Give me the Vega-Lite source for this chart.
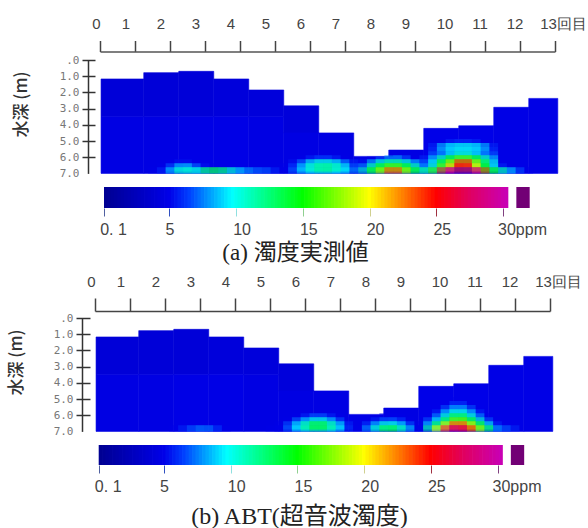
{
"$schema":"https://vega.github.io/schema/vega-lite/v6.json",
"padding":{"left":7,"top":16,"right":0,"bottom":0},
"background":"white",
"bounds":"flush",
"spacing":13,
"config":{"view":{"stroke":null},"axis":{"grid":false}},
"datasets":{
"back":[
{"x":0.03,"x2":1.25,"d":1.17,"d2":3.5,"v":4.1},{"x":0.03,"x2":1.25,"d":3.5,"d2":7,"v":4.7},
{"x":1.25,"x2":2.25,"d":0.78,"d2":3.5,"v":4.1},{"x":1.25,"x2":2.25,"d":3.5,"d2":7,"v":4.7},
{"x":2.25,"x2":3.25,"d":0.7,"d2":3.5,"v":4.1},{"x":2.25,"x2":3.25,"d":3.5,"d2":7,"v":4.9},
{"x":3.25,"x2":4.25,"d":1.17,"d2":3.5,"v":4.3},{"x":3.25,"x2":4.25,"d":3.5,"d2":7,"v":4.9},
{"x":4.25,"x2":5.25,"d":1.85,"d2":3.5,"v":4.3},{"x":4.25,"x2":5.25,"d":3.5,"d2":7,"v":4.7},
{"x":5.25,"x2":6.25,"d":2.83,"d2":4.5,"v":4.3},{"x":5.25,"x2":6.25,"d":4.5,"d2":7,"v":4.7},
{"x":6.25,"x2":7.25,"d":4.5,"d2":7,"v":4.7},
{"x":7.25,"x2":8.25,"d":5.95,"d2":7,"v":4.9},
{"x":8.25,"x2":9.25,"d":5.56,"d2":7,"v":4.7},
{"x":9.25,"x2":10.25,"d":4.22,"d2":7,"v":5},
{"x":10.25,"x2":11.25,"d":4.06,"d2":7,"v":5},
{"x":11.25,"x2":12.25,"d":2.92,"d2":7,"v":4.9},
{"x":12.25,"x2":13.08,"d":2.37,"d2":7,"v":4.9}
],
"hotA":[
{"x":1.625,"d":6.875,"v":5},{"x":1.875,"d":6.875,"v":6},{"x":2.125,"d":6.875,"v":9},{"x":2.375,"d":6.875,"v":11},{"x":2.625,"d":6.875,"v":10},{"x":2.875,"d":6.875,"v":10.5},{"x":3.125,"d":6.875,"v":13},{"x":3.375,"d":6.875,"v":13},{"x":3.625,"d":6.875,"v":11},{"x":3.875,"d":6.875,"v":9},{"x":4.125,"d":6.875,"v":8},{"x":4.375,"d":6.875,"v":7},{"x":4.625,"d":6.875,"v":7},{"x":4.875,"d":6.875,"v":6},{"x":5.125,"d":6.875,"v":5},
{"x":1.875,"d":6.625,"v":5},{"x":2.125,"d":6.625,"v":7},{"x":2.375,"d":6.625,"v":9},{"x":2.625,"d":6.625,"v":7.5},{"x":2.875,"d":6.625,"v":5.5},{"x":3.125,"d":6.625,"v":5},
{"x":2.125,"d":6.375,"v":5},{"x":2.375,"d":6.375,"v":5.5},{"x":2.625,"d":6.375,"v":5},
{"x":5.375,"d":6.875,"v":5},{"x":5.625,"d":6.875,"v":7},{"x":5.875,"d":6.875,"v":9},{"x":6.125,"d":6.875,"v":10},{"x":6.375,"d":6.875,"v":11},{"x":6.625,"d":6.875,"v":10},{"x":6.875,"d":6.875,"v":9.5},{"x":7.125,"d":6.875,"v":8},
{"x":5.375,"d":6.625,"v":5},{"x":5.625,"d":6.625,"v":6.5},{"x":5.875,"d":6.625,"v":9},{"x":6.125,"d":6.625,"v":11},{"x":6.375,"d":6.625,"v":12},{"x":6.625,"d":6.625,"v":11.5},{"x":6.875,"d":6.625,"v":10},{"x":7.125,"d":6.625,"v":7},
{"x":5.625,"d":6.375,"v":5.5},{"x":5.875,"d":6.375,"v":7.5},{"x":6.125,"d":6.375,"v":10},{"x":6.375,"d":6.375,"v":10.5},{"x":6.625,"d":6.375,"v":10},{"x":6.875,"d":6.375,"v":8},{"x":7.125,"d":6.375,"v":6},
{"x":5.875,"d":6.125,"v":5},{"x":6.125,"d":6.125,"v":6},{"x":6.375,"d":6.125,"v":6.5},{"x":6.625,"d":6.125,"v":6},{"x":6.875,"d":6.125,"v":5},
{"x":7.375,"d":6.875,"v":5},{"x":7.625,"d":6.875,"v":11},{"x":7.875,"d":6.875,"v":15},{"x":8.125,"d":6.875,"v":19},{"x":8.375,"d":6.875,"v":24},{"x":8.625,"d":6.875,"v":19},{"x":8.875,"d":6.875,"v":15},{"x":9.125,"d":6.875,"v":11},
{"x":7.625,"d":6.625,"v":8},{"x":7.875,"d":6.625,"v":12},{"x":8.125,"d":6.625,"v":15},{"x":8.375,"d":6.625,"v":17},{"x":8.625,"d":6.625,"v":15},{"x":8.875,"d":6.625,"v":12},{"x":9.125,"d":6.625,"v":8},
{"x":7.625,"d":6.375,"v":5.5},{"x":7.875,"d":6.375,"v":9},{"x":8.125,"d":6.375,"v":11},{"x":8.375,"d":6.375,"v":12},{"x":8.625,"d":6.375,"v":11},{"x":8.875,"d":6.375,"v":9},{"x":9.125,"d":6.375,"v":6},
{"x":7.875,"d":6.2,"v":5},{"x":8.125,"d":6.2,"v":7},{"x":8.375,"d":6.125,"v":8},{"x":8.625,"d":6.125,"v":7},{"x":8.875,"d":6.125,"v":5},
{"x":9.375,"d":6.875,"v":12},{"x":9.625,"d":6.875,"v":16},{"x":9.875,"d":6.875,"v":27},{"x":10.125,"d":6.875,"v":30},{"x":10.375,"d":6.875,"v":31},{"x":10.625,"d":6.875,"v":30},{"x":10.875,"d":6.875,"v":24},{"x":11.125,"d":6.875,"v":15},{"x":11.375,"d":6.875,"v":12},{"x":11.625,"d":6.875,"v":9},{"x":11.875,"d":6.875,"v":7},{"x":12.125,"d":6.875,"v":5},
{"x":9.375,"d":6.625,"v":7},{"x":9.625,"d":6.625,"v":11},{"x":9.875,"d":6.625,"v":17},{"x":10.125,"d":6.625,"v":21},{"x":10.375,"d":6.625,"v":25},{"x":10.625,"d":6.625,"v":20},{"x":10.875,"d":6.625,"v":15},{"x":11.125,"d":6.625,"v":10},{"x":11.375,"d":6.625,"v":6},
{"x":9.375,"d":6.375,"v":7},{"x":9.625,"d":6.375,"v":10},{"x":9.875,"d":6.375,"v":15},{"x":10.125,"d":6.375,"v":19},{"x":10.375,"d":6.375,"v":25},{"x":10.625,"d":6.375,"v":19},{"x":10.875,"d":6.375,"v":14},{"x":11.125,"d":6.375,"v":10},{"x":11.375,"d":6.375,"v":5},
{"x":9.375,"d":6.125,"v":6},{"x":9.625,"d":6.125,"v":9},{"x":9.875,"d":6.125,"v":12},{"x":10.125,"d":6.125,"v":15},{"x":10.375,"d":6.125,"v":17},{"x":10.625,"d":6.125,"v":15},{"x":10.875,"d":6.125,"v":12},{"x":11.125,"d":6.125,"v":9},
{"x":9.375,"d":5.875,"v":5},{"x":9.625,"d":5.875,"v":7},{"x":9.875,"d":5.875,"v":8},{"x":10.125,"d":5.875,"v":10},{"x":10.375,"d":5.875,"v":11},{"x":10.625,"d":5.875,"v":10},{"x":10.875,"d":5.875,"v":8},{"x":11.125,"d":5.875,"v":7},
{"x":9.625,"d":5.625,"v":6},{"x":9.875,"d":5.625,"v":7},{"x":10.125,"d":5.625,"v":8},{"x":10.375,"d":5.625,"v":8},{"x":10.625,"d":5.625,"v":8},{"x":10.875,"d":5.625,"v":7},{"x":11.125,"d":5.625,"v":6},
{"x":9.625,"d":5.375,"v":6},{"x":9.875,"d":5.375,"v":9},{"x":10.125,"d":5.375,"v":9.5},{"x":10.375,"d":5.375,"v":10},{"x":10.625,"d":5.375,"v":9.5},{"x":10.875,"d":5.375,"v":9},{"x":11.125,"d":5.375,"v":6},
{"x":9.875,"d":5.125,"v":5},{"x":10.125,"d":5.125,"v":6},{"x":10.375,"d":5.125,"v":6},{"x":10.625,"d":5.125,"v":6},{"x":10.875,"d":5.125,"v":5}
],
"hotB":[
{"x":2.375,"d":6.875,"v":5},{"x":2.625,"d":6.875,"v":6},{"x":2.875,"d":6.875,"v":7},{"x":3.125,"d":6.875,"v":7.5},{"x":3.375,"d":6.875,"v":6.5},{"x":3.625,"d":6.875,"v":5},
{"x":5.125,"d":6.875,"v":5},
{"x":5.375,"d":6.875,"v":5},{"x":5.625,"d":6.875,"v":7},{"x":5.875,"d":6.875,"v":9.5},{"x":6.125,"d":6.875,"v":11},{"x":6.375,"d":6.875,"v":12},{"x":6.625,"d":6.875,"v":11},{"x":6.875,"d":6.875,"v":9.5},{"x":7.125,"d":6.875,"v":6},
{"x":5.375,"d":6.625,"v":5},{"x":5.625,"d":6.625,"v":7},{"x":5.875,"d":6.625,"v":9.5},{"x":6.125,"d":6.625,"v":12},{"x":6.375,"d":6.625,"v":14},{"x":6.625,"d":6.625,"v":12},{"x":6.875,"d":6.625,"v":9.5},{"x":7.125,"d":6.625,"v":6},
{"x":5.625,"d":6.375,"v":5},{"x":5.875,"d":6.375,"v":7.5},{"x":6.125,"d":6.375,"v":9},{"x":6.375,"d":6.375,"v":10.5},{"x":6.625,"d":6.375,"v":9},{"x":6.875,"d":6.375,"v":7},{"x":7.125,"d":6.375,"v":5},
{"x":5.875,"d":6.125,"v":5},{"x":6.125,"d":6.125,"v":6},{"x":6.375,"d":6.125,"v":7},{"x":6.625,"d":6.125,"v":6},{"x":6.875,"d":6.125,"v":5},
{"x":7.625,"d":6.875,"v":5},{"x":7.875,"d":6.875,"v":8},{"x":8.125,"d":6.875,"v":11},{"x":8.375,"d":6.875,"v":14},{"x":8.625,"d":6.875,"v":12},{"x":8.875,"d":6.875,"v":9},{"x":9.125,"d":6.875,"v":5},
{"x":7.875,"d":6.625,"v":6.5},{"x":8.125,"d":6.625,"v":9},{"x":8.375,"d":6.625,"v":10.5},{"x":8.625,"d":6.625,"v":9.5},{"x":8.875,"d":6.625,"v":7},{"x":9.125,"d":6.625,"v":5},
{"x":7.875,"d":6.375,"v":5},{"x":8.125,"d":6.375,"v":6},{"x":8.375,"d":6.375,"v":7},{"x":8.625,"d":6.375,"v":6.5},{"x":8.875,"d":6.375,"v":5},
{"x":8.375,"d":6.125,"v":5},{"x":8.625,"d":6.125,"v":5},
{"x":9.375,"d":6.875,"v":5},{"x":9.625,"d":6.875,"v":12},{"x":9.875,"d":6.875,"v":20},{"x":10.125,"d":6.875,"v":27},{"x":10.375,"d":6.875,"v":28},{"x":10.625,"d":6.875,"v":25},{"x":10.875,"d":6.875,"v":19},{"x":11.125,"d":6.875,"v":14},{"x":11.375,"d":6.875,"v":8},{"x":11.625,"d":6.875,"v":7},{"x":11.875,"d":6.875,"v":6},
{"x":9.625,"d":6.625,"v":9},{"x":9.875,"d":6.625,"v":14},{"x":10.125,"d":6.625,"v":20},{"x":10.375,"d":6.625,"v":24},{"x":10.625,"d":6.625,"v":20},{"x":10.875,"d":6.625,"v":15},{"x":11.125,"d":6.625,"v":10},{"x":11.375,"d":6.625,"v":6},
{"x":9.625,"d":6.375,"v":7},{"x":9.875,"d":6.375,"v":10},{"x":10.125,"d":6.375,"v":14},{"x":10.375,"d":6.375,"v":17.5},{"x":10.625,"d":6.375,"v":15},{"x":10.875,"d":6.375,"v":11},{"x":11.125,"d":6.375,"v":7},{"x":11.375,"d":6.375,"v":5},
{"x":9.625,"d":6.125,"v":5},{"x":9.875,"d":6.125,"v":8},{"x":10.125,"d":6.125,"v":11},{"x":10.375,"d":6.125,"v":14},{"x":10.625,"d":6.125,"v":11},{"x":10.875,"d":6.125,"v":8},{"x":11.125,"d":6.125,"v":5},
{"x":9.875,"d":5.875,"v":6},{"x":10.125,"d":5.875,"v":9},{"x":10.375,"d":5.875,"v":10.5},{"x":10.625,"d":5.875,"v":9},{"x":10.875,"d":5.875,"v":6},
{"x":9.875,"d":5.625,"v":5},{"x":10.125,"d":5.625,"v":7},{"x":10.375,"d":5.625,"v":8.5},{"x":10.625,"d":5.625,"v":7},{"x":10.875,"d":5.625,"v":5},
{"x":10.125,"d":5.375,"v":5},{"x":10.375,"d":5.375,"v":6.5},{"x":10.625,"d":5.375,"v":5},
{"x":10.375,"d":5.125,"v":5}
],
"bar":[{"p":0.25},{"p":0.5},{"p":0.75},{"p":1},{"p":1.25},{"p":1.5},{"p":1.75},{"p":2},{"p":2.25},{"p":2.5},{"p":2.75},{"p":3},{"p":3.25},{"p":3.5},{"p":3.75},{"p":4},{"p":4.25},{"p":4.5},{"p":4.75},{"p":5},{"p":5.25},{"p":5.5},{"p":5.75},{"p":6},{"p":6.25},{"p":6.5},{"p":6.75},{"p":7},{"p":7.25},{"p":7.5},{"p":7.75},{"p":8},{"p":8.25},{"p":8.5},{"p":8.75},{"p":9},{"p":9.25},{"p":9.5},{"p":9.75},{"p":10},{"p":10.25},{"p":10.5},{"p":10.75},{"p":11},{"p":11.25},{"p":11.5},{"p":11.75},{"p":12},{"p":12.25},{"p":12.5},{"p":12.75},{"p":13},{"p":13.25},{"p":13.5},{"p":13.75},{"p":14},{"p":14.25},{"p":14.5},{"p":14.75},{"p":15},{"p":15.25},{"p":15.5},{"p":15.75},{"p":16},{"p":16.25},{"p":16.5},{"p":16.75},{"p":17},{"p":17.25},{"p":17.5},{"p":17.75},{"p":18},{"p":18.25},{"p":18.5},{"p":18.75},{"p":19},{"p":19.25},{"p":19.5},{"p":19.75},{"p":20},{"p":20.25},{"p":20.5},{"p":20.75},{"p":21},{"p":21.25},{"p":21.5},{"p":21.75},{"p":22},{"p":22.25},{"p":22.5},{"p":22.75},{"p":23},{"p":23.25},{"p":23.5},{"p":23.75},{"p":24},{"p":24.25},{"p":24.5},{"p":24.75},{"p":25},{"p":25.25},{"p":25.5},{"p":25.75},{"p":26},{"p":26.25},{"p":26.5},{"p":26.75},{"p":27},{"p":27.25},{"p":27.5},{"p":27.75},{"p":28},{"p":28.25},{"p":28.5},{"p":28.75},{"p":29},{"p":29.25},{"p":29.5},{"p":29.75},{"p":30},{"p":30.25}],
"over":[{"p":31,"p2":32}]
},
"vconcat":[
{"width":460,"height":113.4,
 "resolve":{"axis":{"x":"independent","y":"independent"}},
 "layer":[
 {"data":{"name":"back"},"mark":{"type":"rect","strokeWidth":0.6},"encoding":{
  "x":{"field":"x","type":"quantitative","scale":{"domain":[0,13],"range":[5,460],"nice":false},
   "axis":{"orient":"top","offset":8.5,"values":[0,1,2,3,4,5,6,7,8,9,10,11,12,13],"tickSize":11,"tickWidth":1.5,"tickColor":"#444","domainColor":"#555","domainWidth":1.5,"labelFont":"Liberation Sans Narrow, Liberation Sans","labelFontSize":15,"labelColor":"#444","labelPadding":9,"title":null,"labelFlush":false,"labelOverlap":false,"labelExpr":"datum.value==13?'13回目':datum.label","labelOffset":{"condition":[{"test":"datum.value==0","value":-4},{"test":"datum.value==13","value":8},{"test":"datum.value>=10","value":-5.5}],"value":-9.5}}},
  "x2":{"field":"x2"},
  "y":{"field":"d","type":"quantitative","scale":{"domain":[0,7],"reverse":true,"nice":false},
   "axis":{"orient":"left","values":[0,1,2,3,4,5,6,7],"domain":false,"tickSize":13,"tickWidth":1.5,"tickColor":"#333","tickOpacity":{"condition":{"test":"datum.value==7","value":0},"value":1},"labelFont":"DejaVu Sans Mono","labelFontSize":11,"labelColor":"#777","labelPadding":3,"labelFlush":false,"labelOverlap":false,"labelExpr":"datum.value==0?'.0':format(datum.value,'.1f')","title":"水深  (m)","titleFont":"Noto Sans CJK JP","titleFontSize":17,"titleFontWeight":500,"titleColor":"#333","titleX":-65,"titleY":44}},
  "y2":{"field":"d2"},
  "stroke":{"field":"v","type":"quantitative","legend":null,"scale":{"interpolate":"rgb","domain":[0.1,5,6.5,9.7,15,20,25,27.5,30.4,30.9],"range":["#000090","#0000e8","#0040ff","#00ffff","#00ff00","#ffff00","#ff0000","#e00060","#c800b8","#800080"]}},
  "color":{"field":"v","type":"quantitative","legend":null,"scale":{"interpolate":"rgb","domain":[0.1,5,6.5,9.7,15,20,25,27.5,30.4,30.9],"range":["#000090","#0000e8","#0040ff","#00ffff","#00ff00","#ffff00","#ff0000","#e00060","#c800b8","#800080"]}}
 }},
 {"data":{"name":"hotA"},"mark":{"type":"rect","width":17.5,"height":8.1,"opacity":0.5,"clip":true},"encoding":{
  "x":{"field":"x","type":"quantitative","scale":{"domain":[0,13],"range":[5,460],"nice":false},"axis":null},
  "y":{"field":"d","type":"quantitative","scale":{"domain":[0,7],"reverse":true,"nice":false},
   "axis":{"orient":"left","offset":7,"values":[0,7],"ticks":false,"labels":false,"domain":true,"domainColor":"#333","domainWidth":1.5,"title":null}},
  "order":{"field":"v","type":"quantitative"},
  "color":{"field":"v","type":"quantitative","legend":null,"scale":{"interpolate":"rgb","domain":[0.1,5,6.5,9.7,15,20,25,27.5,30.4,30.9],"range":["#000090","#0000e8","#0040ff","#00ffff","#00ff00","#ffff00","#ff0000","#e00060","#c800b8","#800080"]}}
 }}
 ]},
{"width":460,"height":21,
 "layer":[
 {"data":{"name":"bar"},"mark":{"type":"rect","width":4},"encoding":{
  "x":{"field":"p","type":"quantitative","scale":{"domain":[0.1,30],"range":[9,408],"nice":false},
   "axis":{"orient":"bottom","values":[0.1,5,10,15,20,25,30],"domain":false,"tickSize":8,"tickWidth":1,"tickColor":{"condition":[{"test":"datum.value<1","value":"#5060a0"},{"test":"datum.value==5","value":"#3050c0"},{"test":"datum.value==10","value":"#90e0e0"},{"test":"datum.value==15","value":"#90d090"},{"test":"datum.value==20","value":"#d0d090"},{"test":"datum.value==25","value":"#a03040"}],"value":"#804080"},"labelFont":"Liberation Sans Narrow, Liberation Sans","labelFontSize":16,"labelColor":"#444","labelPadding":5,"labelFlush":false,"labelOverlap":false,"labelExpr":"datum.value==30?'30ppm':datum.value<1?'0. 1':datum.label","labelOffset":{"condition":[{"test":"datum.value<1","value":9},{"test":"datum.value==5","value":0},{"test":"datum.value==30","value":19}],"value":5.5},"title":"(a) 濁度実測値","titleFont":"Liberation Serif, Noto Sans CJK JP","titleFontSize":23,"titleFontWeight":"normal","titleColor":"#222","titleX":200,"titleY":44,"titleBaseline":"middle"}},
  "color":{"field":"p","type":"quantitative","legend":null,"scale":{"interpolate":"rgb","domain":[0.1,5,6.5,9.7,15,20,25,27.5,30.4,30.9],"range":["#000090","#0000e8","#0040ff","#00ffff","#00ff00","#ffff00","#ff0000","#e00060","#c800b8","#800080"]}}
 }},
 {"data":{"name":"over"},"mark":"rect","encoding":{
  "x":{"field":"p","type":"quantitative","scale":{"domain":[0.1,30],"range":[9,408],"nice":false}},
  "x2":{"field":"p2"},
  "color":{"field":"p","type":"quantitative","legend":null,"scale":{"interpolate":"rgb","domain":[0.1,5,6.5,9.7,15,20,25,27.5,30.4,30.9],"range":["#000090","#0000e8","#0040ff","#00ffff","#00ff00","#ffff00","#ff0000","#e00060","#c800b8","#800080"]}}
 }}
 ]},
{"width":460,"height":83.6,"data":{"values":[]},"mark":"rect","encoding":{}},
{"width":460,"height":113.4,
 "resolve":{"axis":{"x":"independent","y":"independent"}},
 "layer":[
 {"data":{"name":"back"},"mark":{"type":"rect","strokeWidth":0.6},"encoding":{
  "x":{"field":"x","type":"quantitative","scale":{"domain":[0,13],"range":[0,455],"nice":false},
   "axis":{"orient":"top","offset":7,"values":[0,1,2,3,4,5,6,7,8,9,10,11,12,13],"tickSize":13,"tickWidth":1.5,"tickColor":"#444","domainColor":"#444","domainWidth":1.5,"labelFont":"Liberation Sans Narrow, Liberation Sans","labelFontSize":15,"labelColor":"#444","labelPadding":9,"title":null,"labelFlush":false,"labelOverlap":false,"labelExpr":"datum.value==13?'13回目':datum.label","labelOffset":{"condition":[{"test":"datum.value==0","value":-4},{"test":"datum.value==13","value":8},{"test":"datum.value>=10","value":-5.5}],"value":-9.5}}},
  "x2":{"field":"x2"},
  "y":{"field":"d","type":"quantitative","scale":{"domain":[0,7],"reverse":true,"nice":false},
   "axis":{"orient":"left","offset":5,"values":[0,1,2,3,4,5,6,7],"domain":false,"tickSize":14,"tickWidth":1.5,"tickColor":"#333","tickOpacity":{"condition":{"test":"datum.value==7","value":0},"value":1},"labelFont":"DejaVu Sans Mono","labelFontSize":11,"labelColor":"#777","labelPadding":3,"labelFlush":false,"labelOverlap":false,"labelExpr":"datum.value==0?'.0':format(datum.value,'.1f')","title":"水深  (m)","titleFont":"Noto Sans CJK JP","titleFontSize":17,"titleFontWeight":500,"titleColor":"#333","titleX":-65,"titleY":44}},
  "y2":{"field":"d2"},
  "stroke":{"field":"v","type":"quantitative","legend":null,"scale":{"interpolate":"rgb","domain":[0.1,5,6.5,9.7,15,20,25,27.5,30.4,30.9],"range":["#000090","#0000e8","#0040ff","#00ffff","#00ff00","#ffff00","#ff0000","#e00060","#c800b8","#800080"]}},
  "color":{"field":"v","type":"quantitative","legend":null,"scale":{"interpolate":"rgb","domain":[0.1,5,6.5,9.7,15,20,25,27.5,30.4,30.9],"range":["#000090","#0000e8","#0040ff","#00ffff","#00ff00","#ffff00","#ff0000","#e00060","#c800b8","#800080"]}}
 }},
 {"data":{"name":"hotB"},"mark":{"type":"rect","width":17.5,"height":8.1,"opacity":0.5,"clip":true},"encoding":{
  "x":{"field":"x","type":"quantitative","scale":{"domain":[0,13],"range":[0,455],"nice":false},"axis":null},
  "y":{"field":"d","type":"quantitative","scale":{"domain":[0,7],"reverse":true,"nice":false},
   "axis":{"orient":"left","offset":13,"values":[0,7],"ticks":false,"labels":false,"domain":true,"domainColor":"#333","domainWidth":1.5,"title":null}},
  "order":{"field":"v","type":"quantitative"},
  "color":{"field":"v","type":"quantitative","legend":null,"scale":{"interpolate":"rgb","domain":[0.1,5,6.5,9.7,15,20,25,27.5,30.4,30.9],"range":["#000090","#0000e8","#0040ff","#00ffff","#00ff00","#ffff00","#ff0000","#e00060","#c800b8","#800080"]}}
 }}
 ]},
{"width":460,"height":20,
 "layer":[
 {"data":{"name":"bar"},"mark":{"type":"rect","width":4},"encoding":{
  "x":{"field":"p","type":"quantitative","scale":{"domain":[0.1,30],"range":[3.7,402.5],"nice":false},
   "axis":{"orient":"bottom","values":[0.1,5,10,15,20,25,30],"domain":false,"tickSize":8,"tickWidth":1,"tickColor":{"condition":[{"test":"datum.value<1","value":"#5060a0"},{"test":"datum.value==5","value":"#3050c0"},{"test":"datum.value==10","value":"#90e0e0"},{"test":"datum.value==15","value":"#90d090"},{"test":"datum.value==20","value":"#d0d090"},{"test":"datum.value==25","value":"#a03040"}],"value":"#804080"},"labelFont":"Liberation Sans Narrow, Liberation Sans","labelFontSize":16,"labelColor":"#444","labelPadding":5,"labelFlush":false,"labelOverlap":false,"labelExpr":"datum.value==30?'30ppm':datum.value<1?'0. 1':datum.label","labelOffset":{"condition":[{"test":"datum.value<1","value":9},{"test":"datum.value==5","value":0},{"test":"datum.value==30","value":19}],"value":5.5},"title":"(b) ABT(超音波濁度)","titleFont":"Liberation Serif, Noto Sans CJK JP","titleFontSize":24,"titleFontWeight":"normal","titleColor":"#222","titleX":204,"titleY":51,"titleBaseline":"middle"}},
  "color":{"field":"p","type":"quantitative","legend":null,"scale":{"interpolate":"rgb","domain":[0.1,5,6.5,9.7,15,20,25,27.5,30.4,30.9],"range":["#000090","#0000e8","#0040ff","#00ffff","#00ff00","#ffff00","#ff0000","#e00060","#c800b8","#800080"]}}
 }},
 {"data":{"name":"over"},"mark":"rect","encoding":{
  "x":{"field":"p","type":"quantitative","scale":{"domain":[0.1,30],"range":[3.7,402.5],"nice":false}},
  "x2":{"field":"p2"},
  "color":{"field":"p","type":"quantitative","legend":null,"scale":{"interpolate":"rgb","domain":[0.1,5,6.5,9.7,15,20,25,27.5,30.4,30.9],"range":["#000090","#0000e8","#0040ff","#00ffff","#00ff00","#ffff00","#ff0000","#e00060","#c800b8","#800080"]}}
 }}
 ]}
]
}
